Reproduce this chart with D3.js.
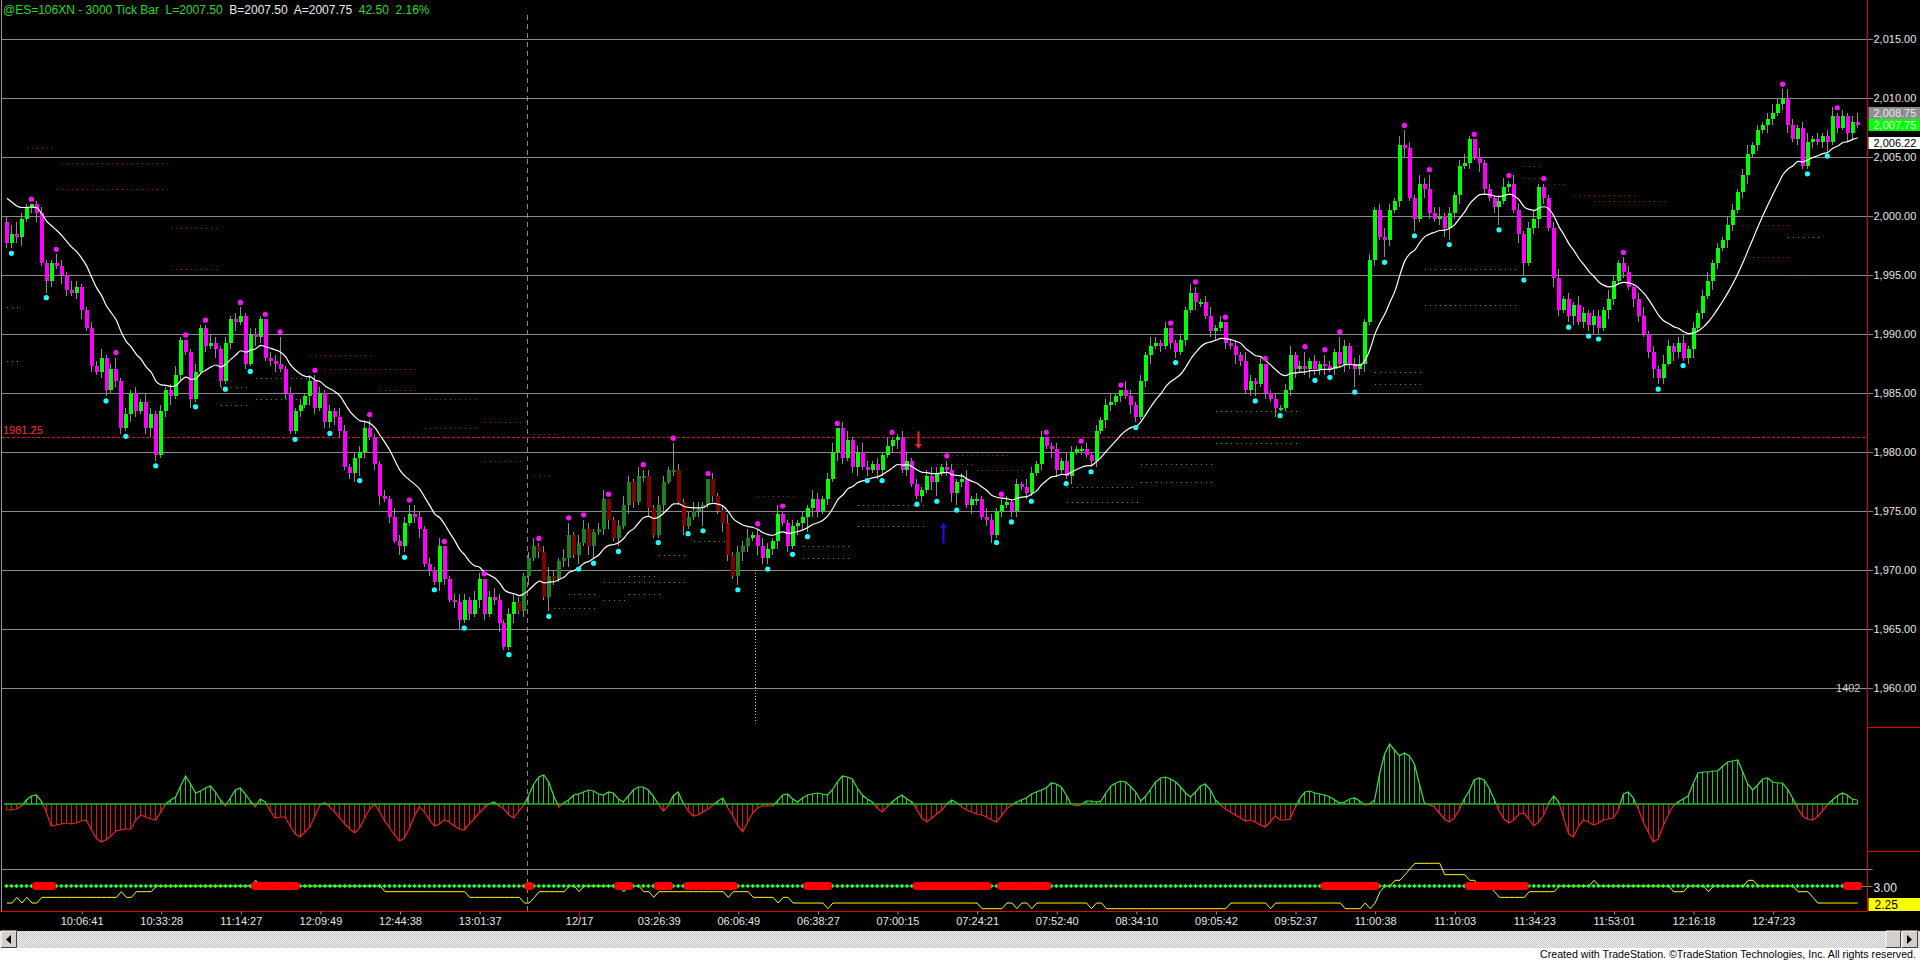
<!DOCTYPE html>
<html><head><meta charset="utf-8">
<script src="https://cdn.jsdelivr.net/npm/d3@7"></script>
<style>
html,body{margin:0;padding:0;background:#000;overflow:hidden}
svg{display:block}
text{font-family:"Liberation Sans",Arial,sans-serif}
</style>
</head><body>
<svg id="c" width="1920" height="962"></svg>
<script>
// ---------------- DATA ----------------
const titleParts = [
  ["@ES=106XN - 3000 Tick Bar  L=2007.50", "g"],
  ["B=2007.50", "w"],
  ["A=2007.75", "w"],
  ["42.50", "g"],
  ["2.16%", "g"]
];
const firstOpen = 1999.5;
const closes = [
1997.75,1998.5,1998.25,1999.75,2000.75,2001.0,2000.25,1996.0,1994.5,1996.0,
1995.75,1995.0,1993.75,1993.5,1994.0,1992.0,1990.5,1987.25,1986.75,1988.0,
1985.25,1987.0,1986.0,1982.0,1983.25,1985.0,1983.5,1984.25,1982.0,1983.25,
1979.75,1983.5,1985.25,1984.75,1986.5,1989.5,1988.5,1984.5,1986.75,1990.5,
1989.0,1989.25,1988.75,1986.0,1989.25,1991.25,1991.0,1991.5,1987.5,1990.0,
1989.75,1991.25,1988.0,1987.75,1987.5,1987.0,1985.0,1981.75,1983.5,1984.0,
1984.75,1986.0,1983.75,1985.0,1982.5,1983.5,1983.0,1981.75,1978.75,1978.25,
1979.5,1980.0,1982.0,1981.25,1979.0,1976.25,1976.0,1974.5,1972.5,1972.0,
1974.0,1974.75,1974.5,1973.5,1970.5,1970.0,1969.0,1972.0,1969.25,1967.5,
1967.25,1965.75,1967.5,1966.25,1967.5,1969.25,1966.25,1967.75,1967.5,1965.5,
1963.5,1966.25,1967.25,1966.5,1969.5,1971.0,1972.0,1971.5,1967.75,1969.5,
1969.25,1970.75,1971.0,1973.0,1971.25,1972.25,1973.5,1972.0,1973.25,1973.5,
1976.0,1974.25,1972.75,1973.75,1975.5,1977.5,1975.75,1978.0,1978.0,1975.25,
1973.0,1975.5,1977.5,1978.5,1978.5,1975.75,1973.75,1974.5,1975.0,1975.25,
1975.5,1977.75,1976.25,1975.0,1974.0,1971.25,1969.5,1971.5,1972.0,1972.75,
1973.0,1972.0,1971.0,1971.75,1972.5,1974.75,1974.0,1972.0,1973.75,1974.0,
1974.5,1975.25,1976.0,1975.0,1976.0,1977.75,1980.0,1982.0,1979.5,1981.0,
1978.75,1980.0,1978.75,1978.5,1979.0,1978.5,1979.75,1980.5,1981.0,1981.25,
1978.5,1979.25,1977.25,1976.25,1976.75,1978.0,1977.5,1978.25,1978.75,1978.5,
1976.5,1977.5,1977.75,1975.5,1976.0,1976.0,1974.5,1974.25,1973.0,1975.0,
1975.5,1975.75,1975.0,1977.25,1977.0,1976.5,1978.25,1979.0,1981.25,1980.5,
1980.25,1978.5,1979.25,1978.0,1980.0,1980.25,1980.25,1979.75,1979.25,1981.75,
1982.75,1984.0,1984.25,1984.75,1985.25,1984.75,1984.0,1983.0,1986.0,1988.25,
1989.0,1989.25,1989.0,1990.5,1989.25,1988.5,1989.5,1992.0,1993.5,1992.75,
1992.75,1991.5,1990.25,1990.5,1991.0,1989.25,1989.0,1988.25,1987.75,1985.25,
1986.0,1985.75,1987.5,1985.0,1984.5,1983.75,1983.75,1985.25,1988.25,1987.0,
1987.25,1987.0,1987.75,1987.0,1987.5,1987.25,1987.0,1988.5,1987.5,1989.0,
1987.5,1987.0,1987.5,1991.0,1996.25,2000.5,1998.25,1998.0,2000.5,2001.25,
2006.0,2005.75,2001.5,1999.75,2002.75,2002.25,2000.25,1999.75,2000.0,1999.0,
2000.25,2001.75,2004.25,2004.5,2006.5,2005.0,2004.5,2002.25,2001.5,2000.75,
2001.25,2002.5,2002.75,2000.5,1998.5,1996.0,1999.0,1999.75,2002.5,2001.5,
1999.0,1994.75,1992.0,1993.0,1991.5,1992.5,1991.0,1991.75,1990.75,1991.5,
1990.5,1992.0,1993.0,1994.5,1996.0,1995.25,1994.0,1993.0,1991.5,1990.0,
1988.5,1987.0,1986.25,1987.5,1989.0,1988.5,1989.25,1988.0,1988.75,1990.5,
1991.75,1993.25,1994.5,1996.0,1997.25,1998.0,1999.25,2000.5,2002.0,2003.5,
2005.25,2006.0,2007.25,2007.75,2008.25,2008.75,2009.5,2010.0,2007.75,2006.5,
2007.5,2004.25,2006.25,2006.5,2006.25,2006.75,2006.25,2008.5,2007.5,2008.5,
2007.0,2008.0,2007.75
];
// wick lengths in ticks (0.25) above / below the body
const wickUp = [
2,3,4,2,1,2,1,2,1,1,3,2,1,3,2,1,1,2,2,3,
1,2,3,1,2,1,2,1,3,2,1,2,1,2,3,1,2,1,3,1,
2,3,2,1,2,1,2,3,1,2,2,1,3,2,2,1,1,2,1,2,
1,2,3,2,1,2,1,3,2,1,2,2,3,2,1,1,2,1,3,2,
2,1,3,2,1,2,1,3,2,1,2,3,2,1,3,2,1,2,3,2,
1,2,3,2,1,2,3,1,2,3,2,1,3,2,1,3,2,2,1,2,
3,2,1,2,3,2,1,3,2,2,1,3,2,1,4,2,1,2,3,2,
1,3,2,1,2,3,1,2,2,3,1,2,3,2,1,3,2,1,2,1,
2,1,3,2,1,2,3,1,2,3,1,2,3,2,1,2,1,3,2,1,
2,3,1,2,1,2,3,2,1,3,2,1,2,3,1,2,1,3,2,1,
3,2,1,2,1,3,2,1,2,3,1,2,1,3,2,1,3,2,1,2,
1,2,3,1,2,3,2,1,2,1,3,2,1,2,3,1,2,1,3,2,
1,2,3,1,2,3,1,2,1,3,2,1,2,3,1,2,1,2,3,1,
2,3,1,2,1,3,2,1,3,2,1,2,3,1,2,1,2,3,2,1,
3,4,2,1,3,2,1,2,3,1,2,1,2,3,1,2,3,1,2,1,
2,3,1,3,2,1,2,3,1,2,1,2,3,1,2,1,3,2,1,2,
2,1,3,2,1,3,2,1,2,3,1,2,1,3,2,1,2,3,1,2,
1,2,3,1,2,1,3,2,1,2,3,1,2,1,2,3,2,1,3,2,
1,2,3,1,2,1,2,3,1,2,1,2,3
];
const wickDn = [
2,1,2,3,1,2,3,1,2,2,1,3,2,1,2,3,1,2,1,2,
3,1,2,2,1,3,2,1,2,3,2,1,2,3,1,2,1,3,2,1,
2,1,3,2,1,2,3,1,2,1,3,2,1,2,3,1,2,1,3,2,
1,3,2,1,2,1,3,2,1,2,3,1,2,1,2,3,1,2,1,3,
2,1,2,3,1,2,1,3,2,1,2,3,1,2,1,3,2,1,2,3,
1,2,3,1,2,3,1,2,1,3,2,1,2,3,1,2,1,3,2,1,
2,3,1,2,1,3,2,1,2,3,1,2,3,1,2,1,3,2,1,2,
3,1,2,1,3,2,1,2,3,2,1,3,2,1,2,3,1,2,1,3,
2,1,3,2,1,2,1,3,2,1,2,3,1,2,1,3,2,1,2,3,
1,2,1,3,2,1,3,2,1,2,3,1,2,1,3,2,1,2,3,1,
2,1,3,2,1,2,3,1,2,1,3,2,1,2,3,1,2,1,3,2,
1,3,2,1,2,1,3,2,1,2,3,1,2,1,2,3,1,2,1,3,
2,1,2,3,1,2,1,3,2,1,2,3,1,2,1,3,2,1,2,3,
1,2,3,1,2,3,1,2,1,3,2,1,2,3,1,2,1,3,2,1,
2,3,1,2,1,3,2,1,2,3,1,2,3,1,2,1,3,2,1,2,
3,1,2,1,3,2,1,2,3,2,1,3,2,1,2,3,1,2,1,3,
2,1,3,2,1,2,1,3,2,1,2,3,1,2,1,3,2,1,2,3,
1,2,1,3,2,1,3,2,1,2,3,1,2,1,3,2,1,2,3,1,
2,1,3,2,1,2,3,1,2,1,3,2,1
];
const swingHighBars = [5,10,22,36,40,47,52,55,62,73,81,88,96,107,113,116,121,128,134,141,151,156,167,178,189,200,209,216,224,234,239,245,253,261,265,268,281,286,295,302,309,325,357,368];
const swingHighPrices = [2001.0,1996.75,1988.0,1989.5,1990.75,1992.25,1991.25,1989.75,1986.5,1982.75,1975.5,1971.75,1968.75,1972.25,1974.0,1974.25,1975.5,1978.5,1980.75,1977.5,1973.5,1975.0,1982.0,1981.25,1979.25,1976.0,1981.0,1980.5,1985.25,1990.25,1994.0,1991.0,1987.5,1988.5,1988.25,1989.75,2007.25,2003.5,2006.0,2003.0,2002.75,1996.5,2010.75,2008.75];
const swingLowBars = [1,8,20,24,30,38,44,49,58,65,71,80,86,92,101,109,115,118,123,131,137,140,147,153,158,161,173,176,183,187,191,199,202,206,213,218,227,235,251,256,263,266,271,277,283,290,300,305,314,318,320,332,337,362,366];
const swingLowPrices = [1997.25,1993.5,1984.75,1981.75,1979.25,1984.25,1985.75,1987.25,1981.5,1982.0,1978.0,1971.5,1968.75,1965.5,1963.25,1966.5,1970.5,1971.0,1972.0,1972.75,1973.5,1973.75,1968.75,1970.5,1971.75,1973.25,1978.0,1978.0,1976.0,1976.25,1975.5,1972.75,1974.5,1976.25,1977.75,1978.75,1982.5,1988.0,1984.75,1983.5,1986.5,1986.75,1985.5,1996.5,1998.75,1998.0,1999.25,1995.0,1991.0,1990.25,1990.0,1985.75,1987.75,2004.0,2005.5];
const overnightBars = [103, 149];          // first / last bar of the overnight session
const sessionBreakBar = 104.5;             // date change
const sessionOpenMark = [150.4, 1970.0, 1957.0]; // bar, top price, bottom price
const resistanceLevels = [
[4,10,2005.75],[11,33,2004.5],[10,33,2002.25],[33,43,1999.0],[33,43,1995.5],[61,74,1988.25],[64,83,1987.0],[75,83,1985.25],
[84,95,1984.5],[96,105,1982.5],[84,95,1982.0],[106,111,1981.5],[96,104,1979.25],[106,110,1978.0],[151,159,1976.25],[151,159,1974.75],
[187,202,1979.75],[187,195,1979.0],[195,205,1978.5],[305,309,2004.25],[305,309,2003.25],[310,314,2002.75],[315,328,2001.75],[319,334,2001.25],
[349,359,1999.25],[349,359,1996.5]
];
const supportLevels = [
[0,3,1992.25],[0,3,1987.75],[50,61,1986.25],[43,49,1985.5],[50,59,1984.5],[43,49,1984.0],[138,146,1972.5],[131,137,1971.25],
[138,150,1970.0],[125,131,1969.5],[120,137,1969.0],[113,119,1968.0],[125,132,1968.0],[120,125,1967.5],[110,119,1966.75],
[171,185,1975.5],[171,185,1973.75],[160,170,1972.0],[160,170,1971.0],[228,243,1979.0],[228,243,1977.5],[213,227,1977.0],[213,228,1975.75],
[243,260,1983.5],[243,260,1980.75],[275,285,1986.75],[275,285,1985.75],[285,304,1995.5],[285,304,1992.5],[358,365,1998.25],[358,363,1995.0]
];
const refPrice = 1981.25;
const arrowBars = [183.2, 188.2];
const arrowFrom = [1981.75, 1972.25];
const arrowTo = [1980.25, 1974.0];
const arrowKinds = ["down", "up"];
const maPeriod = 17;          // exponential average length
const maStart = 2001.5;       // average value read at the first visible bar
const priceTicks = [1960,1965,1970,1975,1980,1985,1990,1995,2000,2005,2010,2015];
const priceBoxLabels = ["2,008.75","2,007.75","2,006.22"];
const priceBoxValues = [2008.75, 2007.75, 2006.22];
const volumeLabel = "1402";
const oscValues = [
-6,-6,-5,-2,4,8,9,3,-8,-22,
-21,-20,-19,-20,-19,-17,-16,-25,-34,-38,
-36,-32,-27,-26,-25,-25,-16,-11,-13,-15,
-16,-8,0,4,7,18,28,20,11,13,
16,18,12,4,-2,6,14,16,10,3,
-3,5,2,-7,-14,-13,-13,-22,-30,-33,
-28,-23,-12,-1,1,-3,-8,-14,-20,-25,
-29,-24,-14,-5,0,-8,-17,-24,-31,-37,
-34,-24,-12,-3,-8,-16,-22,-20,-16,-18,
-22,-25,-26,-20,-15,-9,-4,0,2,-2,
-5,-11,-14,-7,-1,9,20,27,29,22,
8,-3,1,4,9,10,12,14,13,10,
9,12,11,5,2,8,14,17,17,14,
8,0,-7,-2,8,12,1,-7,-12,-11,
-8,-5,-1,3,6,-4,-12,-22,-28,-18,
-9,-4,-2,-2,-2,3,9,10,5,2,
6,9,10,11,10,9,14,22,28,27,
25,16,9,5,2,-4,-8,-3,2,6,
9,5,2,-6,-14,-18,-14,-10,-6,0,
4,1,-3,-6,-8,-10,-11,-13,-16,-18,
-12,-5,-1,2,4,6,10,12,14,16,
21,20,17,9,0,-2,-1,3,3,2,
3,11,18,21,23,22,17,12,3,8,
15,22,26,27,25,22,17,11,7,12,
18,20,14,4,-1,-5,-8,-11,-14,-17,
-16,-18,-21,-23,-18,-12,-16,-16,-15,-4,
6,12,13,11,10,9,7,4,1,2,
5,6,3,-1,0,4,30,50,60,54,
48,51,48,40,20,1,-1,-3,-9,-15,
-18,-14,-6,5,13,24,26,24,16,5,
-7,-15,-19,-16,-10,-9,-15,-22,-18,-11,
1,8,2,-14,-30,-33,-22,-16,-18,-21,
-19,-16,-15,-14,-6,10,12,6,-5,-18,
-28,-38,-35,-22,-11,-2,2,5,8,20,
31,32,32,33,33,38,42,43,44,32,
20,14,19,25,26,22,21,21,15,6,
-4,-12,-15,-16,-13,-7,-1,4,8,11,
9,5,4
];
const signalLevel = 3.0;
const yellowValues = [
2.25,2.25,2.5,2.25,2.5,2.25,2.25,2.5,2.5,2.5,
2.5,2.5,2.5,2.5,2.5,2.5,2.5,2.5,2.5,2.5,
2.5,2.5,2.5,2.75,2.5,2.5,2.75,2.75,2.75,2.75,
3,3,3,3,3,3,3,3,3,3,
3,3,3,3,3,3,3,3,3,3,
3.25,3,3,3,3,3,3,3,3,3,
3,3,3,3,3,3,3,3,3,3,
3,3,3,3,3,3,2.75,2.75,2.75,2.75,
2.75,2.75,2.75,2.75,2.75,2.75,2.75,2.75,2.75,2.75,
2.75,2.75,2.75,2.5,2.5,2.5,2.5,2.5,2.5,2.5,
2.5,2.5,2.5,2.5,2.25,2.25,2.5,2.75,2.75,2.75,
2.75,2.75,2.75,3,3,2.75,3,3,3,3,
3,3,3,3,2.75,3,3,3,2.75,2.75,
2.5,2.75,2.75,2.75,2.75,2.75,2.75,2.75,2.75,2.75,
2.75,2.75,2.75,2.75,2.75,2.5,2.75,2.75,2.75,2.75,
2.5,2.5,2.5,2.5,2.5,2.25,2.5,2.5,2.25,2.25,
2.25,2.25,2.25,2.25,2.25,2,2.25,2.25,2.25,2.25,
2.25,2.25,2.25,2.25,2.25,2.25,2.25,2.25,2.25,2.25,
2.25,2.25,2.25,2.25,2.25,2.25,2.25,2.25,2.25,2.25,
2.25,2.25,2.25,2.25,2.25,2.25,2,2,2,2,
2,2.25,2.25,2,2.25,2.25,2,2.25,2.25,2.25,
2.25,2.25,2.25,2.25,2.25,2.25,2.25,2.25,2,2.25,
2.25,2,2,2,2,2,2,2,2,2,
2,2,2,2,2,2,2,2,2,2,
2,2,2,2,2,2,2.25,2.25,2.25,2.25,
2.25,2.25,2.25,2.25,2,2.25,2.25,2.25,2.25,2.25,
2.25,2.25,2.25,2.25,2.25,2.25,2.25,2.25,2.25,2,
2,2,2,2.25,2,2.25,2.75,3,3,3.25,
3.25,3.5,3.75,4,4,4,4,4,4,3.5,
3.5,3.5,3.5,3.5,3.25,3.25,3,3,3,2.75,
2.5,2.5,2.5,2.5,2.5,2.5,2.75,2.75,2.75,2.75,
2.75,2.75,3,3,3,3,3,3,3,3.25,
3,3,3,3,3,3,3,3,3,3,
3,3,3,3,3,2.75,2.75,2.75,3,3,
3,3,2.75,3,3,3,3,3,3,3,
3.25,3.25,3,3,3,3,3,3,3,3,
2.75,2.75,2.75,2.5,2.25,2.25,2.25,2.25,2.25,2.25,
2.25,2.25,2.25
];
const redBlocks = [[6,9],[50,58],[105,105],[123,125],[131,133],[137,146],[161,165],[183,197],[200,209],[265,275],[294,305],[370,372]];
const bottomLabels = ["3.00", "2.25"];
const bottomLabelValues = [3.0, 2.25];
const timeLabels = ["10:06:41","10:33:28","11:14:27","12:09:49","12:44:38","13:01:37","12/17","03:26:39","06:06:49","06:38:27","07:00:15","07:24:21","07:52:40","08:34:10","09:05:42","09:52:37","11:00:38","11:10:03","11:34:23","11:53:01","12:16:18","12:47:23"];
const timeLabelBars = [15,31,47,63,79,95,115,131,147,163,179,195,211,227,243,259,275,291,307,323,339,355];
const dateLabel = "12/17";
const copyright = "Created with TradeStation. \u00A9TradeStation Technologies, Inc. All rights reserved.";

// ---------------- LAYOUT ----------------
const W = 1920, H = 962;
const axisX = 1867.5;
const N = closes.length;
const svg = d3.select("#c");

const xs = d3.scaleLinear().domain([0, N - 1]).range([7, 7 + 4.975 * (N - 1)]);
const yp = d3.scaleLinear().domain([1960, 2015]).range([688, 39]);
const yo = d3.scaleLinear().domain([-60, 60]).range([864, 744]);
const yb = d3.scaleLinear().domain([2, 4]).range([908.7, 863.3]);

svg.append("rect").attr("width", W).attr("height", H).attr("fill", "#000");

const defs = svg.append("defs");
defs.append("clipPath").attr("id", "plotClip").append("rect").attr("x", 2).attr("y", 0).attr("width", axisX - 2).attr("height", 727);
defs.append("clipPath").attr("id", "oscPos").append("rect").attr("x", 0).attr("y", 700).attr("width", W).attr("height", yo(0) - 700);
defs.append("clipPath").attr("id", "oscNeg").append("rect").attr("x", 0).attr("y", yo(0)).attr("width", W).attr("height", 80);
const pat = defs.append("pattern").attr("id", "hatch").attr("width", 2).attr("height", 2).attr("patternUnits", "userSpaceOnUse");
pat.append("rect").attr("width", 2).attr("height", 2).attr("fill", "#f2f2f2");
pat.append("rect").attr("width", 1).attr("height", 1).attr("fill", "#c4c4c4");
pat.append("rect").attr("x", 1).attr("y", 1).attr("width", 1).attr("height", 1).attr("fill", "#c4c4c4");

// ---------------- PRICE PANEL ----------------
const gGrid = svg.append("g").attr("shape-rendering", "crispEdges");
gGrid.selectAll("line").data(priceTicks).join("line")
  .attr("x1", 2).attr("x2", axisX + 5)
  .attr("y1", d => Math.round(yp(d)) + 0.5).attr("y2", d => Math.round(yp(d)) + 0.5)
  .attr("stroke", "#8a8a8a").attr("stroke-width", 1);

// session break (dash)
svg.append("line")
  .attr("x1", Math.round(xs(sessionBreakBar)) + 0.5).attr("x2", Math.round(xs(sessionBreakBar)) + 0.5)
  .attr("y1", 15).attr("y2", 911)
  .attr("stroke", "#8a8a8a").attr("stroke-width", 1).attr("stroke-dasharray", "5,4");

// dotted support / resistance levels
const gLv = svg.append("g").attr("shape-rendering", "crispEdges");
gLv.selectAll("line.r").data(resistanceLevels).join("line").attr("class", "r")
  .attr("x1", d => xs(d[0])).attr("x2", d => xs(d[1]))
  .attr("y1", d => Math.round(yp(d[2])) + 0.5).attr("y2", d => Math.round(yp(d[2])) + 0.5)
  .attr("stroke", "#a81010").attr("stroke-width", 1).attr("stroke-dasharray", "1,4");
gLv.selectAll("line.s").data(supportLevels).join("line").attr("class", "s")
  .attr("x1", d => xs(d[0])).attr("x2", d => xs(d[1]))
  .attr("y1", d => Math.round(yp(d[2])) + 0.5).attr("y2", d => Math.round(yp(d[2])) + 0.5)
  .attr("stroke", "#18b018").attr("stroke-width", 1).attr("stroke-dasharray", "1,4");

// reference line
svg.append("line").attr("x1", 2).attr("x2", axisX - 2)
  .attr("y1", Math.round(yp(refPrice)) + 0.5).attr("y2", Math.round(yp(refPrice)) + 0.5)
  .attr("stroke", "#e01010").attr("stroke-width", 1).attr("stroke-dasharray", "3,2")
  .attr("shape-rendering", "crispEdges");
svg.append("text").attr("x", 3).attr("y", yp(refPrice) - 3).attr("font-size", 11)
  .attr("fill", "#ff2a2a").text(d3.format(".2f")(refPrice));

// session open marker (yellow dotted)
svg.append("line")
  .attr("x1", Math.round(xs(sessionOpenMark[0])) + 0.5).attr("x2", Math.round(xs(sessionOpenMark[0])) + 0.5)
  .attr("y1", yp(sessionOpenMark[1])).attr("y2", yp(sessionOpenMark[2]))
  .attr("stroke", "#e8e070").attr("stroke-width", 1).attr("stroke-dasharray", "1,2");

// candles
const opens = closes.map((c, i) => i === 0 ? firstOpen : closes[i - 1]);
const highs = closes.map((c, i) => Math.max(opens[i], c) + wickUp[i] * 0.25);
const lows = closes.map((c, i) => Math.min(opens[i], c) - wickDn[i] * 0.25);
swingHighBars.forEach((b, k) => { highs[b] = Math.max(swingHighPrices[k], Math.max(opens[b], closes[b])); });
swingLowBars.forEach((b, k) => { lows[b] = Math.min(swingLowPrices[k], Math.min(opens[b], closes[b])); });

const bars = closes.map((c, i) => ({ i, o: opens[i], c, h: highs[i], l: lows[i] }));
const isNight = i => i >= overnightBars[0] && i <= overnightBars[1];
const candleColor = d => {
  const up = d.c >= d.o;
  if (isNight(d.i)) return up ? "#1d7f1d" : "#800000";
  return up ? "#00ff00" : "#ff00ff";
};
const gC = svg.append("g").attr("clip-path", "url(#plotClip)").attr("shape-rendering", "crispEdges");
gC.selectAll("rect.w").data(bars).join("rect").attr("class", "w")
  .attr("x", d => Math.round(xs(d.i)) - 1).attr("width", 1)
  .attr("y", d => Math.round(yp(d.h))).attr("height", d => Math.max(1, Math.round(yp(d.l)) - Math.round(yp(d.h))))
  .attr("fill", "#8c8c8c");
gC.selectAll("rect.b").data(bars).join("rect").attr("class", "b")
  .attr("x", d => Math.round(xs(d.i)) - 2).attr("width", 4)
  .attr("y", d => Math.round(yp(Math.max(d.o, d.c))))
  .attr("height", d => Math.max(2, Math.round(yp(Math.min(d.o, d.c))) - Math.round(yp(Math.max(d.o, d.c)))))
  .attr("fill", candleColor);

// exponential moving average
const alpha = 2 / (maPeriod + 1);
const ma = [];
closes.forEach((c, i) => { ma.push(i === 0 ? maStart : ma[i - 1] + alpha * (c - ma[i - 1])); });
svg.append("path").datum(ma)
  .attr("d", d3.line().x((d, i) => xs(i)).y(d => yp(d)).curve(d3.curveMonotoneX))
  .attr("fill", "none").attr("stroke", "#ffffff").attr("stroke-width", 1.2);

// swing dots
svg.append("g").selectAll("circle").data(swingHighBars).join("circle")
  .attr("cx", b => xs(b) - 0.5).attr("cy", b => yp(highs[b]) - 5).attr("r", 2.6).attr("fill", "#ff10ff");
svg.append("g").selectAll("circle").data(swingLowBars).join("circle")
  .attr("cx", b => xs(b) - 0.5).attr("cy", b => yp(lows[b]) + 5).attr("r", 2.6).attr("fill", "#20ffff");

// signal arrows
arrowBars.forEach((b, k) => {
  const x = Math.round(xs(b)) + 0.5;
  const y1 = yp(arrowFrom[k]), y2 = yp(arrowTo[k]);
  const col = arrowKinds[k] === "down" ? "#ff2020" : "#1010ff";
  const tip = arrowKinds[k] === "down" ? Math.max(y1, y2) : Math.min(y1, y2);
  const tail = arrowKinds[k] === "down" ? Math.min(y1, y2) : Math.max(y1, y2);
  const dir = arrowKinds[k] === "down" ? -1 : 1;
  svg.append("line").attr("x1", x).attr("x2", x).attr("y1", tail).attr("y2", tip + dir * 4)
    .attr("stroke", col).attr("stroke-width", 2);
  svg.append("path").attr("d", `M${x - 3.5},${tip + dir * 5}L${x + 3.5},${tip + dir * 5}L${x},${tip}Z`).attr("fill", col);
});

// ---------------- PRICE AXIS ----------------
const yAxis = d3.axisRight(yp).tickValues(priceTicks).tickFormat(d3.format(",.2f")).tickSize(0).tickPadding(6);
const gA = svg.append("g").attr("transform", `translate(${axisX},0)`).call(yAxis);
gA.select(".domain").remove();
gA.selectAll("text").attr("fill", "#e6e6e6").attr("font-size", 11).attr("font-family", "Liberation Sans, Arial, sans-serif");

// price label boxes
const boxFill = ["#8e8e8e", "#00ff00", "#ffffff"];
const boxText = ["#e8e8e8", "#e8ffe8", "#000000"];
priceBoxLabels.forEach((t, k) => {
  const y = yp(priceBoxValues[k]);
  svg.append("rect").attr("x", axisX + 1).attr("y", Math.round(y) - 6).attr("width", W - axisX - 1).attr("height", 12).attr("fill", boxFill[k]);
  svg.append("text").attr("x", axisX + 6).attr("y", y + 4).attr("font-size", 11).attr("fill", boxText[k]).text(t);
});

svg.append("text").attr("x", axisX - 7).attr("y", yp(1960) + 4).attr("text-anchor", "end")
  .attr("font-size", 11).attr("fill", "#cfcfcf").text(volumeLabel);

// right-side panel ticks
svg.append("g").selectAll("line").data([727, 851]).join("line")
  .attr("x1", axisX).attr("x2", W).attr("y1", d => d + 0.5).attr("y2", d => d + 0.5)
  .attr("stroke", "#e00000").attr("stroke-width", 1);

// ---------------- OSCILLATOR ----------------
const gO = svg.append("g");
gO.selectAll("line").data(oscValues).join("line")
  .attr("x1", (d, i) => Math.round(xs(i)) - 0.5).attr("x2", (d, i) => Math.round(xs(i)) - 0.5)
  .attr("y1", yo(0)).attr("y2", d => yo(d))
  .attr("stroke", d => d >= 0 ? "#22c022" : "#d01818").attr("stroke-width", 1);
const oscLine = d3.line().x((d, i) => xs(i) - 0.5).y(d => yo(d));
gO.append("path").datum(oscValues).attr("d", oscLine).attr("fill", "none")
  .attr("stroke", "#40e040").attr("stroke-width", 1.2).attr("clip-path", "url(#oscPos)");
gO.append("path").datum(oscValues).attr("d", oscLine).attr("fill", "none")
  .attr("stroke", "#ee2020").attr("stroke-width", 1.2).attr("clip-path", "url(#oscNeg)");
gO.append("line").attr("x1", xs(0) - 3).attr("x2", xs(N - 1)).attr("y1", yo(0)).attr("y2", yo(0))
  .attr("stroke", "#20c020").attr("stroke-width", 1.6);

// separator
svg.append("line").attr("x1", 2).attr("x2", axisX + 5).attr("y1", 869.5).attr("y2", 869.5)
  .attr("stroke", "#8a8a8a").attr("stroke-width", 1);

// ---------------- BOTTOM PANEL ----------------
const inRed = i => redBlocks.some(r => i >= r[0] && i <= r[1]);
const ySig = yb(signalLevel);
svg.append("path").datum(yellowValues)
  .attr("d", d3.line().x((d, i) => xs(i)).y(d => yb(d)))
  .attr("fill", "none").attr("stroke", "#ffff00").attr("stroke-width", 1);
svg.append("line").attr("x1", xs(0) - 3).attr("x2", xs(N - 1)).attr("y1", ySig).attr("y2", ySig)
  .attr("stroke", "#18a018").attr("stroke-width", 1);
svg.append("line").attr("x1", xs(N - 1) + 3).attr("x2", axisX + 5).attr("y1", Math.round(ySig) + 0.5).attr("y2", Math.round(ySig) + 0.5)
  .attr("stroke", "#8a8a8a").attr("stroke-width", 1);
svg.append("g").selectAll("path").data(d3.range(N).filter(i => !inRed(i))).join("path")
  .attr("d", i => { const x = xs(i) - 0.5; return `M${x},${ySig - 2.2}L${x + 2},${ySig}L${x},${ySig + 2.2}L${x - 2},${ySig}Z`; })
  .attr("fill", "#30ff30");
svg.append("g").selectAll("line").data(redBlocks).join("line")
  .attr("x1", d => xs(d[0]) - 1).attr("x2", d => xs(d[1]) + 0.5)
  .attr("y1", ySig).attr("y2", ySig)
  .attr("stroke", "#ff0000").attr("stroke-width", 8).attr("stroke-linecap", "round");

svg.append("text").attr("x", axisX + 6).attr("y", yb(bottomLabelValues[0]) + 6).attr("font-size", 12).attr("fill", "#e8e8e8").text(bottomLabels[0]);
svg.append("rect").attr("x", axisX + 1).attr("y", 898).attr("width", W - axisX - 1).attr("height", 13).attr("fill", "#ffff00");
svg.append("text").attr("x", axisX + 7).attr("y", 909).attr("font-size", 12).attr("fill", "#000").text(bottomLabels[1]);

// ---------------- FRAME ----------------
svg.append("line").attr("x1", axisX).attr("x2", axisX).attr("y1", 0).attr("y2", 911)
  .attr("stroke", "#e00000").attr("stroke-width", 1);
svg.append("line").attr("x1", 0).attr("x2", axisX).attr("y1", 911.5).attr("y2", 911.5)
  .attr("stroke", "#e00000").attr("stroke-width", 1);
svg.append("line").attr("x1", 1.5).attr("x2", 1.5).attr("y1", 0).attr("y2", 911)
  .attr("stroke", "#9a9a9a").attr("stroke-width", 1);

// ---------------- TIME AXIS ----------------
const xAxis = d3.axisBottom(xs).tickValues(timeLabelBars).tickFormat((d, i) => timeLabels[i]).tickSize(3).tickPadding(3);
const gX = svg.append("g").attr("transform", "translate(0,911.5)").call(xAxis);
gX.select(".domain").remove();
gX.selectAll(".tick line").attr("stroke", "#9a9a9a");
gX.selectAll("text").attr("fill", "#e6e6e6").attr("font-size", 11).attr("font-family", "Liberation Sans, Arial, sans-serif");
gX.selectAll(".tick").filter((d, i) => timeLabels[i] === dateLabel).select("line").attr("stroke", "#e00000").attr("y2", 6);

// ---------------- TITLE ----------------
const tTitle = svg.append("text").attr("x", 3).attr("y", 14).attr("font-size", 12).attr("xml:space", "preserve");
titleParts.forEach((p, k) => {
  tTitle.append("tspan").attr("fill", p[1] === "g" ? "#22dd22" : "#ececec").text((k ? "  " : "") + p[0]);
});

// ---------------- SCROLLBAR & FOOTER ----------------
svg.append("rect").attr("x", 0).attr("y", 931).attr("width", W).attr("height", 17).attr("fill", "url(#hatch)");
const btn = (x, w) => {
  svg.append("rect").attr("x", x).attr("y", 931).attr("width", w).attr("height", 17).attr("fill", "#d4d0c8");
  svg.append("path").attr("d", `M${x},${948}L${x},${931}L${x + w},${931}`).attr("fill", "none").attr("stroke", "#ffffff");
  svg.append("path").attr("d", `M${x + w - 0.5},${931}L${x + w - 0.5},${947.5}L${x},${947.5}`).attr("fill", "none").attr("stroke", "#404040");
};
btn(1, 16);
svg.append("path").attr("d", "M6,939.5L11,935L11,944Z").attr("fill", "#000");
btn(1886, 15);
btn(1902, 16);
svg.append("path").attr("d", "M1912,939.5L1907,935L1907,944Z").attr("fill", "#000");
svg.append("rect").attr("x", 0).attr("y", 948).attr("width", W).attr("height", H - 948).attr("fill", "#ffffff");
svg.append("text").attr("x", 1916).attr("y", 957.5).attr("text-anchor", "end")
  .attr("font-size", 10.5).attr("fill", "#000")
  .attr("font-family", "Liberation Sans Narrow, Arial Narrow, Liberation Sans, sans-serif")
  .attr("textLength", 376).attr("lengthAdjust", "spacingAndGlyphs")
  .text(copyright);
</script>
</body></html>
